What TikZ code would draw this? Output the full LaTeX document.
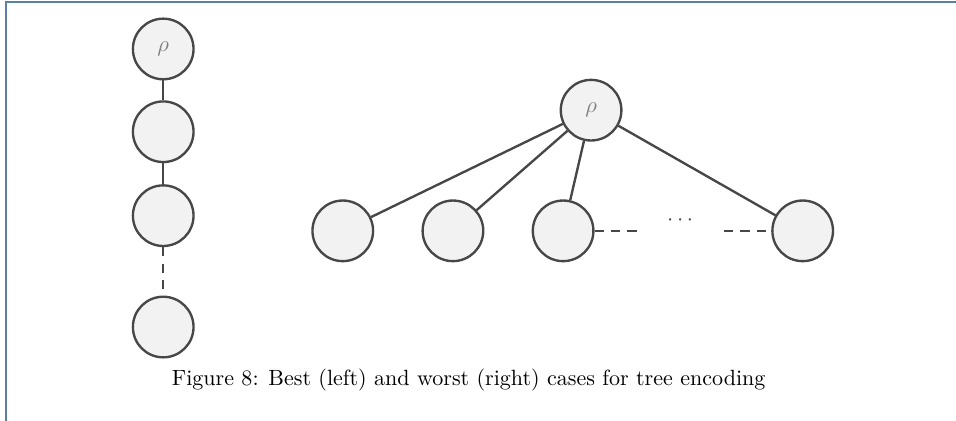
\documentclass[tikz,border=0pt]{standalone}
\usepackage{xcolor}
\usepackage{amsmath}
\usepackage{tikz}
\usetikzlibrary{shapes,arrows}
\definecolor{edgegray}{HTML}{474747}
\definecolor{fillgray}{HTML}{F2F2F2}
\definecolor{framecol}{HTML}{5B7FA6}

\begin{document}
\begin{tikzpicture}[font=\fontsize{10.76}{13}\selectfont,
vtx/.style={circle,draw=edgegray,fill=fillgray,line width=1.15pt,minimum size=1.04cm,inner sep=0pt,text=gray},
lnk/.style={draw=edgegray,line width=1.15pt},
dsh/.style={lnk,dash pattern=on 4.5pt off 3.5pt}]
\useasboundingbox (0,0) rectangle (16.40,-7.22);
\draw[framecol,line width=1pt] (0.11,-7.22) -- (0.11,-0.03) -- (16.40,-0.03);
% left: path
\node[vtx] (l1) at (2.80,-0.84) {$\rho$};
\node[vtx] (l2) at (2.80,-2.26) {};
\node[vtx] (l3) at (2.80,-3.70) {};
\node[vtx] (l4) at (2.80,-5.61) {};
\draw[lnk] (l1) -- (l2);
\draw[lnk] (l2) -- (l3);
\draw[dsh] (l3) -- (l4);
% right: star
\node[vtx] (r0) at (10.14,-1.89) {$\rho$};
\node[vtx] (c1) at (5.88,-3.96) {};
\node[vtx] (c2) at (7.77,-3.96) {};
\node[vtx] (c3) at (9.66,-3.96) {};
\node[vtx] (c4) at (13.77,-3.96) {};
\draw[lnk] (r0) -- (c1);
\draw[lnk] (r0) -- (c2);
\draw[lnk] (r0) -- (c3);
\draw[lnk] (r0) -- (c4);
\coordinate (dl) at (11.03,-3.96);
\coordinate (dr) at (12.42,-3.96);
\node[text=edgegray] (dots) at (11.70,-3.78) {$\cdots$};
\draw[dsh] (c3) -- (dl);
\draw[dsh] (dr) -- (c4);
%\draw[dsh] (c3) -- (c4);
\node (cap) at (8.04,-6.52) {Figure 8: Best (left) and worst (right) cases for tree encoding};
\end{tikzpicture}
\end{document}
